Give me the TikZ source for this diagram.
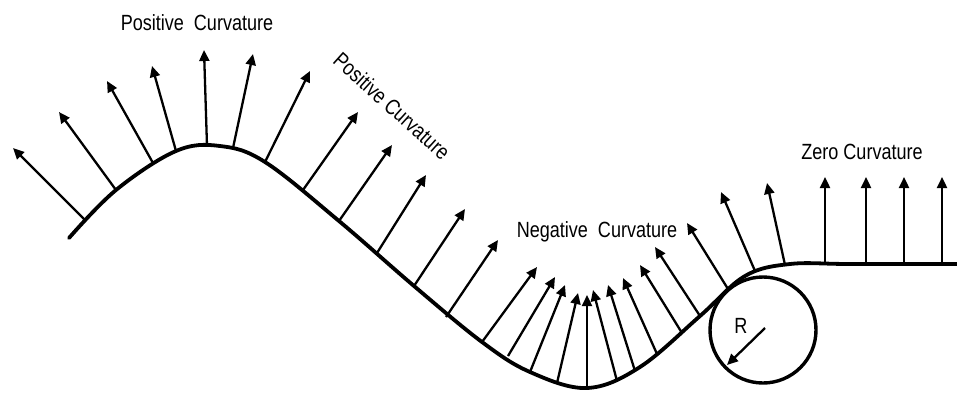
\documentclass[tikz,border=0pt]{standalone}
\usepackage{fontspec}
\setmainfont{Liberation Sans}
\usetikzlibrary{arrows.meta}
\newcommand{\cvtxt}[1]{\scalebox{0.82}[1]{#1}}
\begin{document}
\begin{tikzpicture}[x=1pt,y=-1pt,
  surf/.style={line width=3.8pt,line cap=round,line join=round},
  nrm/.style={line width=2.3pt,-{Triangle[length=11pt,width=10pt]}},
  lbl/.style={font=\fontsize{22}{24}\selectfont,inner sep=0pt}]
\useasboundingbox (0,0) rectangle (957,392);
% surface
\draw[surf] plot[smooth,tension=0.6] coordinates {(69,238) (116,190) (176,151) (220,146) (265,162) (339,221) (414,286) (482,342) (530,372) (587,388) (640,367) (700,316) (745,276) (790,264) (850,264) (957,264)};
% osculating circle
\coordinate (c) at (763,330);
\draw[line width=3.4pt] (c) circle[radius=53];
\coordinate (rend) at (727,365);
\draw[nrm] (765,328) -- (rend);
\node[lbl] (R) at (741,326) {\cvtxt{R}};
% normals
\foreach \a/\b/\c/\d in {86/221/13/148, 116/190/59/112, 153/163/107/81, 176/151/152/66,
  207/146/204/50, 233/148/253/54, 265/162/310/71, 303/190/358/112, 339/221/392/145,
  377/253/426/175, 414/286/465/209, 446/317/498/240, 482/342/537/267, 508/356/555/277,
  530/372/565/285, 557/383/578/293, 587/388/587/295, 617/381/593/290, 635/371/608/285,
  657/354/623/278, 682/333/640/265, 700/316/655/247, 728/289/687/223, 755/271/721/192,
  785/265/767/183, 825/264/825/177, 866/264/866/177, 904/264/904/177, 942/264/942/177}
  \draw[nrm] (\a,\b) -- (\c,\d);
% labels
\node[lbl] (pc1) at (197,23) {\cvtxt{Positive\ \ Curvature}};
\node[lbl,rotate=-42] (pc2) at (392,106) {\cvtxt{Positive Curvature}};
\node[lbl,anchor=base] (nc) at (597,237) {\cvtxt{Negative\ \ Curvature}};
\node[lbl] (zc) at (862,152) {\cvtxt{Zero Curvature}};
\end{tikzpicture}
\end{document}
